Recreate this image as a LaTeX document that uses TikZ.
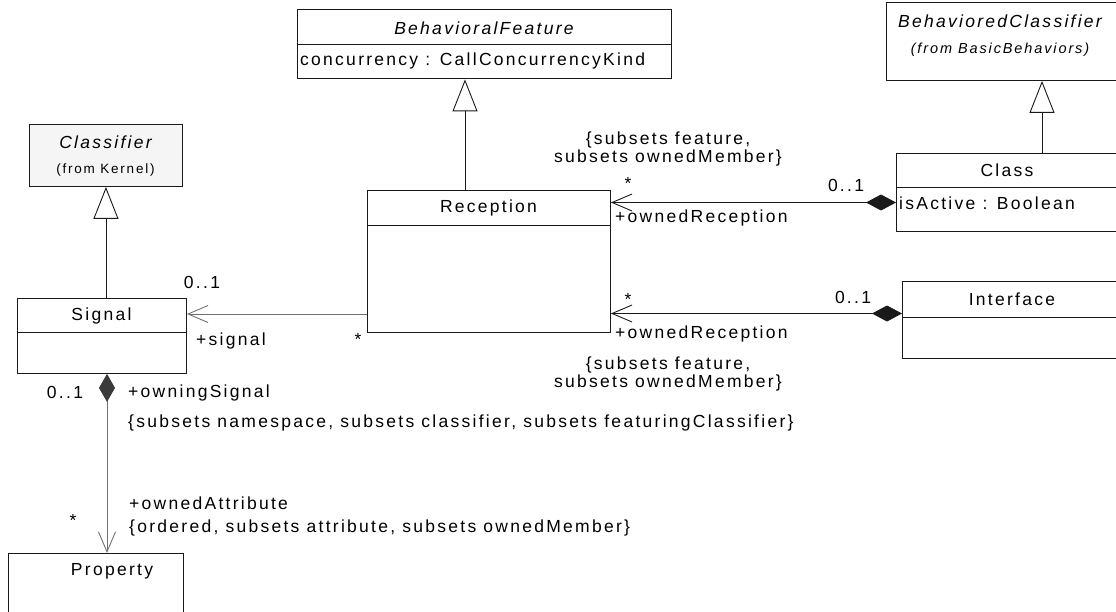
\documentclass[tikz,border=0pt]{standalone}
\usepackage{fontspec}
\setmainfont{Liberation Sans}[LetterSpace=13]
\usetikzlibrary{arrows.meta}
\definecolor{lncol}{HTML}{1A1A1A}
\definecolor{grlin}{HTML}{707070}
\definecolor{dkdia}{HTML}{3A3A3A}
\definecolor{lightfill}{HTML}{F5F5F5}
\begin{document}
\begin{tikzpicture}[x=1pt,y=-1pt,
  box/.style={draw=lncol, line width=0.9pt, inner sep=0pt, anchor=north west},
  txt/.style={inner sep=0pt, font=\fontsize{17.5}{19}\selectfont},
  itxt/.style={inner sep=0pt, font=\fontsize{17.5}{19}\selectfont\itshape},
  stxt/.style={inner sep=0pt, font=\fontsize{13.5}{15}\selectfont},
  sitxt/.style={inner sep=0pt, font=\fontsize{14.5}{16}\selectfont\itshape},
  ln/.style={draw=lncol, line width=0.9pt},
  gen/.style={draw=lncol, line width=0.9pt, -{Triangle[length=32pt,width=25pt,fill=white,line width=0.9pt]}},
  assoc/.style={line width=0.9pt, -{Straight Barb[length=20pt,width=17pt,line width=0.9pt]}},
  comp/.style={line width=0.9pt, {Diamond[length=30pt,width=16pt]}-{Straight Barb[length=20pt,width=17pt,line width=0.9pt]}}
]
\useasboundingbox (0,0) rectangle (1116,612);
\clip (0,0) rectangle (1116,612);

% BehavioralFeature
\node[box, minimum width=374pt, minimum height=69pt] (bf) at (297,9.5) {};
\draw[ln] (bf.west |- 0,44) -- (bf.east |- 0,44);
\node[itxt] (bft) at (484,28) {BehavioralFeature};
\node[txt, anchor=west] (bfa) at (300,61) {concurrency : CallConcurrencyKind};

% BehavioredClassifier
\node[box, minimum width=240pt, minimum height=78pt] (bc) at (886,2) {};
\node[itxt] (bct) at (1000,21) {BehavioredClassifier};
\node[sitxt] (bcs) at (1000,50) {(from BasicBehaviors)};

% Classifier
\node[box, fill=lightfill, minimum width=153pt, minimum height=62pt] (cl) at (29,124) {};
\node[itxt] (clt) at (105.5,142) {Classifier};
\node[stxt] (cls) at (105.5,170) {(from Kernel)};

% Class
\node[box, minimum width=222pt, minimum height=78pt] (class) at (896,153) {};
\draw[ln] (class.west |- 0,187) -- (class.east |- 0,187);
\node[txt] (classt) at (1007,170) {Class};
\node[txt, anchor=west] (classa) at (899,203) {isActive : Boolean};

% Interface
\node[box, minimum width=220pt, minimum height=77pt] (intf) at (902,281) {};
\draw[ln] (intf.west |- 0,317) -- (intf.east |- 0,317);
\node[txt] (intft) at (1012,299) {Interface};

% Reception
\node[box, minimum width=243pt, minimum height=141pt] (rec) at (367,190.5) {};
\draw[ln] (rec.west |- 0,225) -- (rec.east |- 0,225);
\node[txt] (rect) at (488.5,207.5) {Reception};

% Signal
\node[box, minimum width=169pt, minimum height=75pt] (sig) at (17,298) {};
\draw[ln] (sig.west |- 0,332) -- (sig.east |- 0,332);
\node[txt] (sigt) at (101.5,316) {Signal};

% Property
\node[box, minimum width=175pt, minimum height=80pt] (prop) at (8,553) {};
\node[txt] (propt) at (112,571) {Property};

% Generalizations
\draw[gen] (sig.north -| cl.south) -- (cl.south);
\draw[gen] (rec.north -| 465,0) -- (bf.south -| 465,0);
\draw[gen] (class.north -| 1042,0) -- (bc.south -| 1042,0);

% Reception -> Signal
\draw[assoc, draw=grlin] (rec.west |- 0,314) -- (sig.east |- 0,314);
\node[txt] (l1) at (202,282) {0..1};
\node[txt, anchor=west] (l2) at (196,341) {+signal};
\node[txt] (l3) at (358,339) {*};

% Class -> Reception
\draw[comp, draw=lncol, fill=lncol] (class.west |- 0,202.5) -- (rec.east |- 0,202.5);
\node[txt] (l4) at (628,183) {*};
\node[txt] (l5) at (846,185) {0..1};
\node[txt, anchor=west] (l6) at (615,218) {+ownedReception};
\node[txt] (l7) at (668,140) {\{subsets feature,};
\node[txt] (l8) at (668,158) {subsets ownedMember\}};

% Interface -> Reception
\draw[comp, draw=lncol, fill=lncol] (intf.west |- 0,313.5) -- (rec.east |- 0,313.5);
\node[txt] (l9) at (628,299) {*};
\node[txt] (l10) at (853,297) {0..1};
\node[txt, anchor=west] (l11) at (615,334) {+ownedReception};
\node[txt] (l12) at (668,365) {\{subsets feature,};
\node[txt] (l13) at (668,383) {subsets ownedMember\}};

% Signal -> Property
\draw[line width=0.9pt, draw=grlin, {Diamond[length=28pt,width=16pt,fill=dkdia,color=dkdia]}-{Straight Barb[length=20pt,width=17pt,line width=0.9pt]}] (sig.south -| 107,0) -- (prop.north -| 107,0);
\node[txt] (l14) at (65,392) {0..1};
\node[txt, anchor=west] (l15) at (128,393) {+owningSignal};
\node[txt, anchor=west] (l16) at (128,423) {\{subsets namespace, subsets classifier, subsets featuringClassifier\}};
\node[txt, anchor=west] (l17) at (129,503) {+ownedAttribute};
\node[txt, anchor=west] (l18) at (129,528) {\{ordered, subsets attribute, subsets ownedMember\}};
\node[txt] (l19) at (73,520) {*};
\end{tikzpicture}
\end{document}
